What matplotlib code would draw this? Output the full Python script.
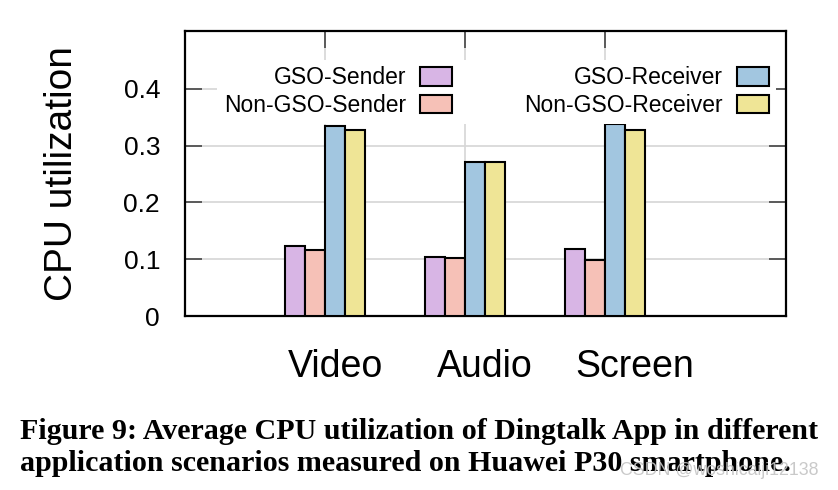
import numpy as np
import matplotlib.pyplot as plt
from matplotlib.transforms import ScaledTranslation

plt.rcParams['font.family'] = ['Liberation Sans', 'DejaVu Sans']

# data
scenarios = ['Video', 'Audio', 'Screen']
series_names = ['GSO-Sender', 'Non-GSO-Sender', 'GSO-Receiver', 'Non-GSO-Receiver']
gso_sender = [0.123, 0.104, 0.118]
non_gso_sender = [0.116, 0.102, 0.099]
gso_receiver = [0.334, 0.271, 0.339]
non_gso_receiver = [0.327, 0.271, 0.327]
y_ticks = [0, 0.1, 0.2, 0.3, 0.4]
y_tick_labels = ['0', '0.1', '0.2', '0.3', '0.4']

colors = ['#d8b5e5', '#f6c1b7', '#a2c6e0', '#efe596']
all_series = [gso_sender, non_gso_sender, gso_receiver, non_gso_receiver]

fig = plt.figure(figsize=(8.38, 4.9), dpi=100)
ax = fig.add_axes([185 / 838, 1 - 316 / 490, 601 / 838, 285 / 490])

x = np.arange(len(scenarios))
w = 1 / 7
for i, (vals, name) in enumerate(zip(all_series, series_names)):
    ax.bar(x + (i - 1.5) * w, vals, w, color=colors[i], edgecolor='black',
           linewidth=1.5, label=name, zorder=3)

ax.set_xlim(-1, 3.293)
ax.set_ylim(0, 0.502)
ax.set_yticks(y_ticks)
ax.set_yticklabels(y_tick_labels)
ax.set_xticks(x)
ax.set_xticklabels(scenarios)

ax.grid(True, color='#d6d6d6', linewidth=1.2, zorder=0)
ax.set_axisbelow(True)
for s in ax.spines.values():
    s.set_linewidth(1.6)

ax.tick_params(axis='y', direction='in', left=True, right=True, length=12,
               width=1.2, color='#444444', labelsize=19, pad=18)
ax.tick_params(axis='x', direction='in', bottom=False, top=True, length=12,
               width=1.2, color='#444444', labelsize=27, pad=24)

# gnuplot-style labels drift slightly to the right
for k, lab in enumerate(ax.get_xticklabels()):
    lab.set_transform(lab.get_transform() + ScaledTranslation((k + 1) * 10 / 100, 0, fig.dpi_scale_trans))

ax.set_ylabel('CPU utilization', fontsize=28, labelpad=31)

# opaque key box hides the grid behind it, like gnuplot
leg = ax.legend(ncol=2, loc='upper right', bbox_to_anchor=(0.983, 0.9), frameon=True,
                facecolor='white', edgecolor='none', framealpha=1, fancybox=False,
                markerfirst=False, fontsize=16.5, handlelength=1.4, handleheight=0.85,
                handletextpad=0.6, columnspacing=3.15, labelspacing=0.2, borderpad=0.3,
                borderaxespad=0)

fig.text(20 / 838, 1 - 431 / 490, 'Figure 9: Average CPU utilization of Dingtalk App in different',
         fontsize=21.6, fontweight='bold', family='Liberation Serif', va='center', ha='left')
fig.text(20 / 838, 1 - 463 / 490, 'application scenarios measured on Huawei P30 smartphone.',
         fontsize=21.6, fontweight='bold', family='Liberation Serif', va='center', ha='left')
fig.text(818 / 838, 1 - 470 / 490, 'CSDN @woshicaiji12138', fontsize=12.8, color='#c4c4c4',
         alpha=0.9, va='center', ha='right', zorder=5)

fig.savefig('out.png', dpi=100)
